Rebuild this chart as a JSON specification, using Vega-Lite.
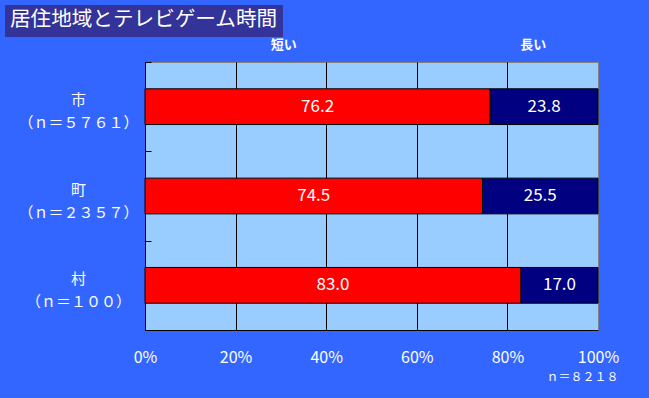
{
  "$schema": "https://vega.github.io/schema/vega-lite/v6.json",
  "width": 453,
  "height": 268,
  "autosize": {"type": "none"},
  "padding": {"left": 145, "top": 62, "right": 51, "bottom": 68},
  "background": "#3366FF",
  "config": {
    "font": "Noto Sans CJK JP",
    "view": {"fill": "#99CCFF", "stroke": "#808080", "strokeWidth": 1}
  },
  "data": {
    "values": [
      {"region": "市|（ｎ＝５７６１）", "type": "短い", "pct": 76.2},
      {"region": "市|（ｎ＝５７６１）", "type": "長い", "pct": 23.8},
      {"region": "町|（ｎ＝２３５７）", "type": "短い", "pct": 74.5},
      {"region": "町|（ｎ＝２３５７）", "type": "長い", "pct": 25.5},
      {"region": "村|（ｎ＝１００）", "type": "短い", "pct": 83.0},
      {"region": "村|（ｎ＝１００）", "type": "長い", "pct": 17.0}
    ]
  },
  "transform": [
    {"stack": "pct", "groupby": ["region"], "sort": [{"field": "type", "order": "ascending"}], "as": ["x0", "x1"]},
    {"calculate": "(datum.x0 + datum.x1) / 2", "as": "mid"}
  ],
  "encoding": {
    "y": {
      "field": "region",
      "type": "nominal",
      "sort": null,
      "scale": {"paddingInner": 0, "paddingOuter": 0},
      "axis": {
        "title": null,
        "labelExpr": "split(datum.label, '|')",
        "labelColor": "white",
        "labelFontSize": 15,
        "labelAlign": "center",
        "labelBaseline": "middle",
        "labelPadding": 73,
        "labelLineHeight": 23,
        "labelOffset": -7,
        "tickBand": "extent",
        "tickSize": -6,
        "tickColor": "black",
        "domainColor": "black"
      }
    }
  },
  "layer": [
    {
      "mark": {"type": "bar", "height": {"band": 0.4}, "stroke": "black", "strokeWidth": 1},
      "encoding": {
        "x": {
          "field": "x0",
          "type": "quantitative",
          "scale": {"domain": [0, 100]},
          "axis": {
            "orient": "bottom",
            "values": [0, 20, 40, 60, 80, 100],
            "labelExpr": "datum.value + '%'",
            "ticks": false,
            "domainColor": "black",
            "grid": true,
            "gridColor": {"condition": {"test": "datum.value === 100", "value": "#808080"}, "value": "black"},
            "gridOpacity": 1,
            "labelColor": "white",
            "labelFontSize": 16,
            "labelPadding": 19,
            "labelFlush": false,
            "title": "ｎ＝８２１８",
            "titleColor": "white",
            "titleFontSize": 12,
            "titleFontWeight": "normal",
            "titleAlign": "right",
            "titleX": 473,
            "titleY": 46,
            "titleBaseline": "middle"
          }
        },
        "x2": {"field": "x1"},
        "color": {
          "field": "type",
          "type": "nominal",
          "scale": {"domain": ["短い", "長い"], "range": ["#FF0000", "#000080"]},
          "legend": {
            "orient": "none",
            "legendX": -140,
            "legendY": -57,
            "title": "居住地域とテレビゲーム時間",
            "titleFontSize": 20.6,
            "titleFontWeight": "normal",
            "titleColor": "white",
            "titleOrient": "top",
            "titleBaseline": "top",
            "titleLimit": 500,
            "titlePadding": 0,
            "fillColor": "#333399",
            "padding": 5,
            "values": ["短い"],
            "symbolSize": 0,
            "symbolStrokeWidth": 0,
            "symbolOpacity": 0,
            "labelFontSize": 1,
            "labelOpacity": 0,
            "labelOffset": 0,
            "direction": "horizontal"
          }
        }
      }
    },
    {
      "mark": {"type": "text", "color": "white", "fontSize": 17},
      "encoding": {
        "x": {
          "field": "mid",
          "type": "quantitative",
          "axis": {
            "orient": "top",
            "values": [30.5, 85.6],
            "labelExpr": "datum.value < 50 ? '短い' : '長い'",
            "ticks": false,
            "domain": false,
            "grid": false,
            "labelColor": "white",
            "labelFontSize": 13,
            "labelFontWeight": "bold",
            "labelPadding": 11,
            "title": null
          }
        },
        "text": {"field": "pct", "type": "quantitative", "format": ".1f"}
      }
    }
  ],
  "resolve": {"axis": {"x": "independent"}}
}
